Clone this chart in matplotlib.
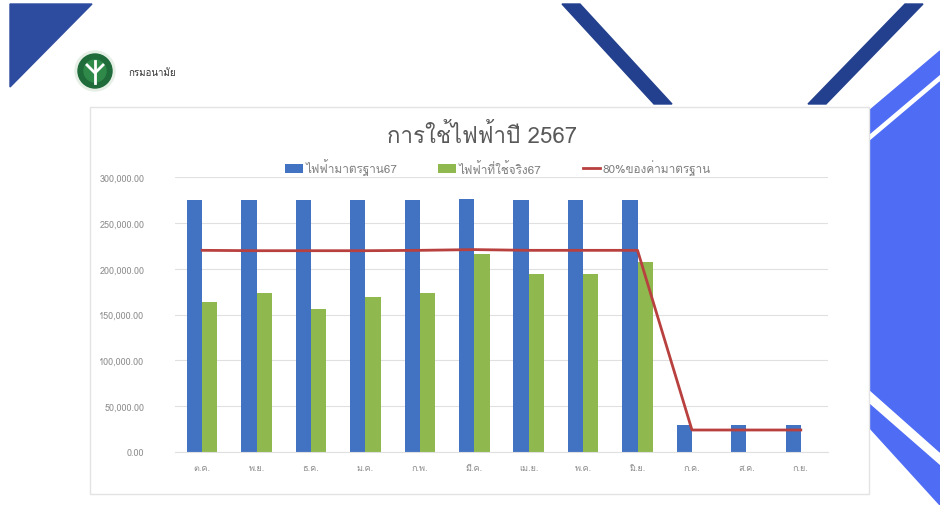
import numpy as np
import matplotlib
matplotlib.use("Agg")
import matplotlib.pyplot as plt
from matplotlib import font_manager
from matplotlib.ft2font import FT2Font
from matplotlib.patches import Polygon, Rectangle, Circle
from matplotlib.ticker import FuncFormatter

# look for any installed font that has Thai glyphs
thai_font = None
for f in font_manager.fontManager.ttflist:
    try:
        if 0x0E01 in FT2Font(f.fname).get_charmap():
            thai_font = f.name
            break
    except Exception:
        pass
if thai_font:
    plt.rcParams['font.family'] = [thai_font, 'DejaVu Sans']
else:
    plt.rcParams['font.family'] = ['DejaVu Sans']

months = ['ต.ค.', 'พ.ย.', 'ธ.ค.', 'ม.ค.', 'ก.พ.', 'มี.ค.', 'เม.ย.', 'พ.ค.', 'มิ.ย.', 'ก.ค.', 'ส.ค.', 'ก.ย.']
standard = [275000, 274500, 274500, 274500, 275000, 276000, 275000, 275000, 275000, 30000, 30000, 30000]
actual = [164000, 174000, 156000, 169000, 174000, 216000, 194000, 194000, 207000, np.nan, np.nan, np.nan]
eighty = [220000, 219600, 219600, 219600, 220000, 220800, 220000, 220000, 220000, 24000, 24000, 24000]

title = "การใช้ไฟฟ้าปี 2567"
labels = ["ไฟฟ้ามาตรฐาน67", "ไฟฟ้าที่ใช้จริง67", "80%ของค่ามาตรฐาน"]

W, H = 940, 506
fig = plt.figure(figsize=(W / 100, H / 100), dpi=100)

# background decorations in pixel coordinates
bg = fig.add_axes([0, 0, 1, 1])
bg.set_xlim(0, W)
bg.set_ylim(H, 0)
bg.axis('off')
bg.add_patch(Polygon([(10, 5), (92, 5), (10, 88)], color='#2d4b9f'))
bg.add_patch(Polygon([(562, 5), (580, 5), (672, 105), (654, 105)], color='#23408e'))
bg.add_patch(Polygon([(905, 5), (923, 5), (826, 105), (808, 105)], color='#23408e'))
blue = '#4f6cf5'
bg.add_patch(Polygon([(869, 112), (940, 52), (940, 75), (869, 135)], color=blue))
bg.add_patch(Polygon([(869, 143), (940, 83), (940, 453), (869, 390)], color=blue))
bg.add_patch(Polygon([(869, 405), (940, 467), (940, 506), (869, 428)], color=blue))
bg.add_patch(Circle((95, 72), 20, color='#e6efe6'))
bg.add_patch(Circle((95, 72), 17, color='#1f6b3a'))
bg.add_patch(Circle((95, 72), 11, color='#2f8a4a'))
bg.plot([95, 95], [62, 84], color='white', lw=2)
bg.plot([87, 95, 103], [66, 74, 66], color='white', lw=2)
bg.text(128, 73, "กรมอนามัย", fontsize=7, color='#333333', va='center', ha='left')
bg.add_patch(Rectangle((90, 108), 779, 387, facecolor='white', edgecolor='#e3e3e3', lw=1))

# chart axes: plot area x 175..828, y 178..453 px
ax = fig.add_axes([175 / W, 1 - 453 / H, (828 - 175) / W, (453 - 178) / H])
ax.patch.set_alpha(0)
x = np.arange(len(months))
bw = 0.28
b1 = ax.bar(x - bw / 2, standard, bw, color='#4272c2', zorder=2)
b2 = ax.bar(x + bw / 2, actual, bw, color='#8fb84e', zorder=2)
l1, = ax.plot(x, eighty, color='#b8403e', lw=2, zorder=3)

ax.set_xlim(-0.5, len(months) - 0.5)
ax.set_ylim(0, 300000)
ax.set_yticks(np.arange(0, 300001, 50000))
ax.yaxis.set_major_formatter(FuncFormatter(lambda v, p: f"{v:,.2f}"))
ax.set_xticks(x)
ax.set_xticklabels(months)
ax.tick_params(axis='both', length=0, labelsize=6.5, colors='#8c8c8c')
ax.tick_params(axis='y', pad=22)
ax.tick_params(axis='x', pad=8)
ax.grid(axis='y', color='#e0e0e0', lw=0.8, zorder=0)
for s in ['top', 'right', 'left']:
    ax.spines[s].set_visible(False)
ax.spines['bottom'].set_color('#e0e0e0')

fig.text(482 / W, 1 - 136 / H, title, fontsize=16, color='#595959', ha='center', va='center')
fig.legend([b1, b2, l1], labels, loc='center', bbox_to_anchor=(498 / W, 1 - 168 / H),
           ncol=3, frameon=False, fontsize=8.5, labelcolor='#7f7f7f',
           handlelength=1.5, handletextpad=0.2, columnspacing=3.5)

fig.savefig("out.png", dpi=100)
